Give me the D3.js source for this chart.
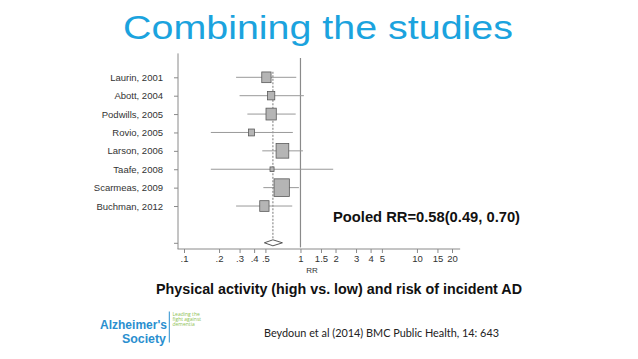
<!DOCTYPE html>
<html>
<head>
<meta charset="utf-8">
<script src="https://cdn.jsdelivr.net/npm/d3@7"></script>
<style>
  html, body { margin: 0; padding: 0; background: #fff; }
  svg { display: block; }
</style>
</head>
<body>
<svg id="chart" width="638" height="359"></svg>
<script>
// ---- data ----
const studies = ["Laurin, 2001", "Abott, 2004", "Podwills, 2005", "Rovio, 2005", "Larson, 2006", "Taafe, 2008", "Scarmeas, 2009", "Buchman, 2012"];
const rr      = [0.51, 0.56, 0.56, 0.38, 0.70, 0.57, 0.69, 0.49];
const ciLow   = [0.28, 0.30, 0.35, 0.17, 0.47, 0.17, 0.48, 0.28];
const ciHigh  = [0.92, 1.07, 0.91, 0.86, 1.05, 1.91, 0.97, 0.85];
const weights = [11.1, 6.8, 13.6, 4.6, 20.7, 2.1, 30.1, 11.1];
const pooled  = [0.58, 0.49, 0.70];
const xTicks  = [0.1, 0.2, 0.3, 0.4, 0.5, 1, 1.5, 2, 3, 4, 5, 10, 15, 20];
const xTickLabels = [".1", ".2", ".3", ".4", ".5", "1", "1.5", "2", "3", "4", "5", "10", "15", "20"];

const svg = d3.select("#chart");

// title
svg.append("text")
  .attr("x", 123).attr("y", 38.5)
  .attr("font-family", "Liberation Sans, Arial, sans-serif")
  .attr("font-size", 33)
  .attr("textLength", 390).attr("lengthAdjust", "spacingAndGlyphs")
  .attr("fill", "#1ba3de")
  .text("Combining the studies");

// scales
const x = d3.scaleLog().domain([0.1, 20]).range([184, 452]);
const y = d3.scaleLinear().domain([0, 9]).range([77.3, 242.8]);
const boxW = d3.scaleSqrt().domain([0, d3.max(weights)]).range([0, 15.3]);

const g = svg.append("g");
const gray = "#8a8a8a";

// x axis
const xAxis = d3.axisBottom(x)
  .tickValues(xTicks)
  .tickFormat((d, i) => xTickLabels[i])
  .tickSize(4).tickPadding(2).tickSizeOuter(0);
const xg = g.append("g").attr("transform", "translate(0,249)").call(xAxis);
xg.select(".domain").remove();
xg.selectAll(".tick line").attr("stroke", gray);
xg.selectAll(".tick text").attr("font-family", "Liberation Sans, Arial, sans-serif").attr("font-size", 9.5).attr("fill", "#333");
g.append("line")
  .attr("x1", x(0.088)).attr("x2", x(23.5)).attr("y1", 249).attr("y2", 249)
  .attr("stroke", gray).attr("stroke-width", 1);

// x axis title
g.append("text")
  .attr("x", 312).attr("y", 273)
  .attr("text-anchor", "middle")
  .attr("font-family", "Liberation Sans, Arial, sans-serif")
  .attr("font-size", 8).attr("fill", "#333")
  .text("RR");

// y axis
const rowIdx = studies.map((d, i) => i).concat([9]);
const yAxis = d3.axisLeft(y)
  .tickValues(rowIdx)
  .tickFormat(d => d < studies.length ? studies[d] : "")
  .tickSize(4).tickPadding(11).tickSizeOuter(0);
const yg = g.append("g").attr("transform", "translate(178,0)").call(yAxis);
yg.select(".domain").remove();
yg.selectAll(".tick line").attr("stroke", gray);
yg.selectAll(".tick text").attr("font-family", "Liberation Sans, Arial, sans-serif").attr("font-size", 9.5).attr("fill", "#333");
g.append("line")
  .attr("x1", 178).attr("x2", 178).attr("y1", y(-1.3)).attr("y2", 249)
  .attr("stroke", gray).attr("stroke-width", 1);

// null line at RR=1
g.append("line")
  .attr("x1", x(1)).attr("x2", x(1)).attr("y1", y(-1.05)).attr("y2", y(9.25))
  .attr("stroke", gray).attr("stroke-width", 1.2);

// pooled dotted line
g.append("line")
  .attr("x1", x(pooled[0])).attr("x2", x(pooled[0]))
  .attr("y1", y(-0.3)).attr("y2", y(9) - 3)
  .attr("stroke", "#555").attr("stroke-width", 0.8).attr("stroke-dasharray", "2,1.5");

// CI lines
g.selectAll(".ci").data(studies).join("line")
  .attr("class", "ci")
  .attr("x1", (d, i) => x(ciLow[i])).attr("x2", (d, i) => x(ciHigh[i]))
  .attr("y1", (d, i) => y(i)).attr("y2", (d, i) => y(i))
  .attr("stroke", "#999").attr("stroke-width", 1);

// boxes
g.selectAll(".box").data(studies).join("rect")
  .attr("class", "box")
  .attr("x", (d, i) => x(rr[i]) - boxW(weights[i]) / 2)
  .attr("y", (d, i) => y(i) - boxW(weights[i]) * 1.15 / 2)
  .attr("width", (d, i) => boxW(weights[i]))
  .attr("height", (d, i) => boxW(weights[i]) * 1.15)
  .attr("fill", "#b5b5b5").attr("stroke", "#5a5a5a").attr("stroke-width", 0.8);

// diamond
const yp = y(9);
g.append("polygon")
  .attr("points", [[x(pooled[1]), yp], [x(pooled[0]), yp - 3], [x(pooled[2]), yp], [x(pooled[0]), yp + 3]].map(p => p.join(",")).join(" "))
  .attr("fill", "#fff").attr("stroke", "#444").attr("stroke-width", 0.9);

// pooled text
g.append("text")
  .attr("x", 333).attr("y", 221.7)
  .attr("font-family", "Liberation Sans, Arial, sans-serif")
  .attr("font-weight", "bold").attr("font-size", 14.5)
  .attr("textLength", 187).attr("lengthAdjust", "spacingAndGlyphs")
  .attr("fill", "#111")
  .text(`Pooled RR=${pooled[0].toFixed(2)}(${pooled[1].toFixed(2)}, ${pooled[2].toFixed(2)})`);

// subtitle
svg.append("text")
  .attr("x", 156).attr("y", 294.3)
  .attr("font-family", "Liberation Sans, Arial, sans-serif")
  .attr("font-weight", "bold").attr("font-size", 14.3)
  .attr("textLength", 366).attr("lengthAdjust", "spacingAndGlyphs")
  .attr("fill", "#111")
  .text("Physical activity (high vs. low) and risk of incident AD");

// logo
const logo = svg.append("g");
logo.append("text")
  .attr("x", 100).attr("y", 328.5)
  .attr("font-family", "Liberation Sans, Arial, sans-serif")
  .attr("font-weight", "bold").attr("font-size", 12)
  .attr("textLength", 67).attr("lengthAdjust", "spacingAndGlyphs")
  .attr("fill", "#2a8fcf").text("Alzheimer's");
logo.append("text")
  .attr("x", 122).attr("y", 343)
  .attr("font-family", "Liberation Sans, Arial, sans-serif")
  .attr("font-weight", "bold").attr("font-size", 12)
  .attr("textLength", 44).attr("lengthAdjust", "spacingAndGlyphs")
  .attr("fill", "#2a8fcf").text("Society");
logo.append("line")
  .attr("x1", 169.3).attr("x2", 169.3).attr("y1", 311.5).attr("y2", 342.5)
  .attr("stroke", "#2a8fcf").attr("stroke-width", 1);
[["Leading the", 315.5], ["fight against", 320.8], ["dementia", 326]].forEach(([t, yy]) => {
  logo.append("text")
    .attr("x", 172.5).attr("y", yy)
    .attr("font-family", "Open Sans, Liberation Sans, sans-serif")
    .attr("font-size", 5).attr("fill", "#8cc152")
    .text(t);
});

// citation
svg.append("text")
  .attr("x", 264).attr("y", 336.5)
  .attr("font-family", "Lato, Open Sans, sans-serif")
  .attr("font-size", 12)
  .attr("textLength", 235).attr("lengthAdjust", "spacingAndGlyphs")
  .attr("fill", "#222")
  .text("Beydoun et al (2014) BMC Public Health, 14: 643");
</script>
</body>
</html>
